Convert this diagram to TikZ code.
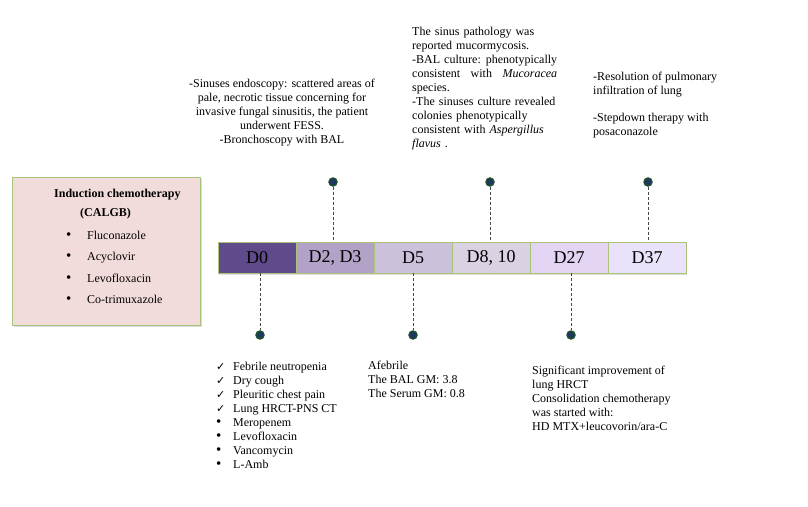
\documentclass[tikz,border=0pt]{standalone}
\usepackage{fontspec}
\setmainfont{Liberation Serif}
\newfontfamily\symfont{DejaVu Sans}
\usetikzlibrary{shadows}
\definecolor{boxgreen}{HTML}{A9C47A}
\definecolor{pinkfill}{HTML}{F2DCDB}
\definecolor{cA}{HTML}{5F4B8B}
\definecolor{cB}{HTML}{B3A2C7}
\definecolor{cC}{HTML}{CCC1DA}
\definecolor{cD}{HTML}{DAD1E3}
\definecolor{cE}{HTML}{E2D4F2}
\definecolor{cF}{HTML}{EAE2FA}
\definecolor{dotfill}{HTML}{1F3864}
\definecolor{dotring}{HTML}{1D4D2A}
\definecolor{dashcol}{HTML}{3E4C42}
\tikzset{
  txt/.style={font=\fontsize{12}{14}\selectfont, inner sep=0pt, anchor=north west, align=left},
  daybox/.style={draw=boxgreen, line width=0.9pt, minimum width=78pt, minimum height=31pt,
    inner sep=0pt, font=\fontsize{18}{20}\selectfont,
    drop shadow={shadow xshift=1.2pt, shadow yshift=-1.5pt, opacity=0.25}},
  tdot/.style={circle, minimum size=8pt, inner sep=0pt, fill=dotfill, draw=dotring, line width=1.4pt},
  dashline/.style={draw=dashcol, line width=0.9pt, dash pattern=on 3pt off 2pt},
  indbox/.style={draw=boxgreen, line width=1pt, fill=pinkfill, minimum width=188pt, minimum height=148pt,
    inner sep=0pt, drop shadow={shadow xshift=1.5pt, shadow yshift=-2pt, opacity=0.3}}
}
\newcommand{\chk}{\makebox[17pt][l]{\symfont\fontsize{11}{14}\selectfont ✓}}
\newcommand{\bul}{\makebox[17pt][l]{\fontsize{15}{14}\selectfont •}}
\newcommand{\ibul}{\makebox[21pt][l]{\fontsize{15}{14}\selectfont •}}
\begin{document}
\begin{tikzpicture}[x=1pt,y=-1pt]
\useasboundingbox (0,0) rectangle (808,506);
% left induction box
\node[indbox] (ind) at (106,251) {};
\node[txt, font=\fontsize{12}{14}\selectfont\bfseries] (indt) at (54,189) {Induction chemotherapy};
\node[txt, font=\fontsize{12}{14}\selectfont\bfseries] (calgb) at (80,208) {(CALGB)};
\node[txt, font=\fontsize{12}{21.3}\selectfont] (indl) at (66,231) {\ibul Fluconazole\\\ibul Acyclovir\\\ibul Levofloxacin\\\ibul Co-trimuxazole};
% timeline boxes
\node[daybox, fill=cA] (d0) at (257,257.5) {D0};
\node[daybox, fill=cB] (d23) at (335,257.5) {D2, D3};
\node[daybox, fill=cC] (d5) at (413,257.5) {D5};
\node[daybox, fill=cD] (d810) at (491,257.5) {D8, 10};
\node[daybox, fill=cE] (d27) at (569,257.5) {D27};
\node[daybox, fill=cF] (d37) at (647,257.5) {D37};
% top dots
\node[tdot] (t1) at (333,182) {};
\node[tdot] (t2) at (490,182) {};
\node[tdot] (t3) at (648,182) {};
\draw[dashline] (t1) -- (t1 |- d23.north);
\draw[dashline] (t2) -- (t2 |- d810.north);
\draw[dashline] (t3) -- (t3 |- d37.north);
% bottom dots
\node[tdot] (b1) at (260,335) {};
\node[tdot] (b2) at (413,335) {};
\node[tdot] (b3) at (571,335) {};
\draw[dashline] (b1 |- d0.south) -- (b1);
\draw[dashline] (b2 |- d5.south) -- (b2);
\draw[dashline] (b3 |- d27.south) -- (b3);
% top texts
\node[txt, anchor=north, align=center] (tx1) at (282,79) {-Sinuses endoscopy: scattered areas of\\pale, necrotic tissue concerning for\\invasive fungal sinusitis, the patient\\underwent FESS.\\-Bronchoscopy with BAL};
\node[txt, text width=145pt] (tx2) at (412,27) {The sinus pathology was\\reported mucormycosis.\\-BAL culture:\hfill phenotypically\\consistent\hfill with\hfill \textit{Mucoracea}\\species.\\-The sinuses culture revealed\\colonies phenotypically\\consistent with \textit{Aspergillus}\\\textit{flavus} .};
\node[txt] (tx3) at (593,72) {-Resolution of pulmonary\\infiltration of lung\\[13pt]-Stepdown therapy with\\posaconazole};
% bottom texts
\node[txt] (bx1) at (216,362) {\chk Febrile neutropenia\\\chk Dry cough\\\chk Pleuritic chest pain\\\chk Lung HRCT-PNS CT\\\bul Meropenem\\\bul Levofloxacin\\\bul Vancomycin\\\bul L-Amb};
\node[txt] (bx2) at (368,361) {Afebrile\\The BAL GM: 3.8\\The Serum GM: 0.8};
\node[txt] (bx3) at (532,366) {Significant improvement of\\lung HRCT\\Consolidation chemotherapy\\was started with:\\HD MTX+leucovorin/ara-C};
\end{tikzpicture}
\end{document}
